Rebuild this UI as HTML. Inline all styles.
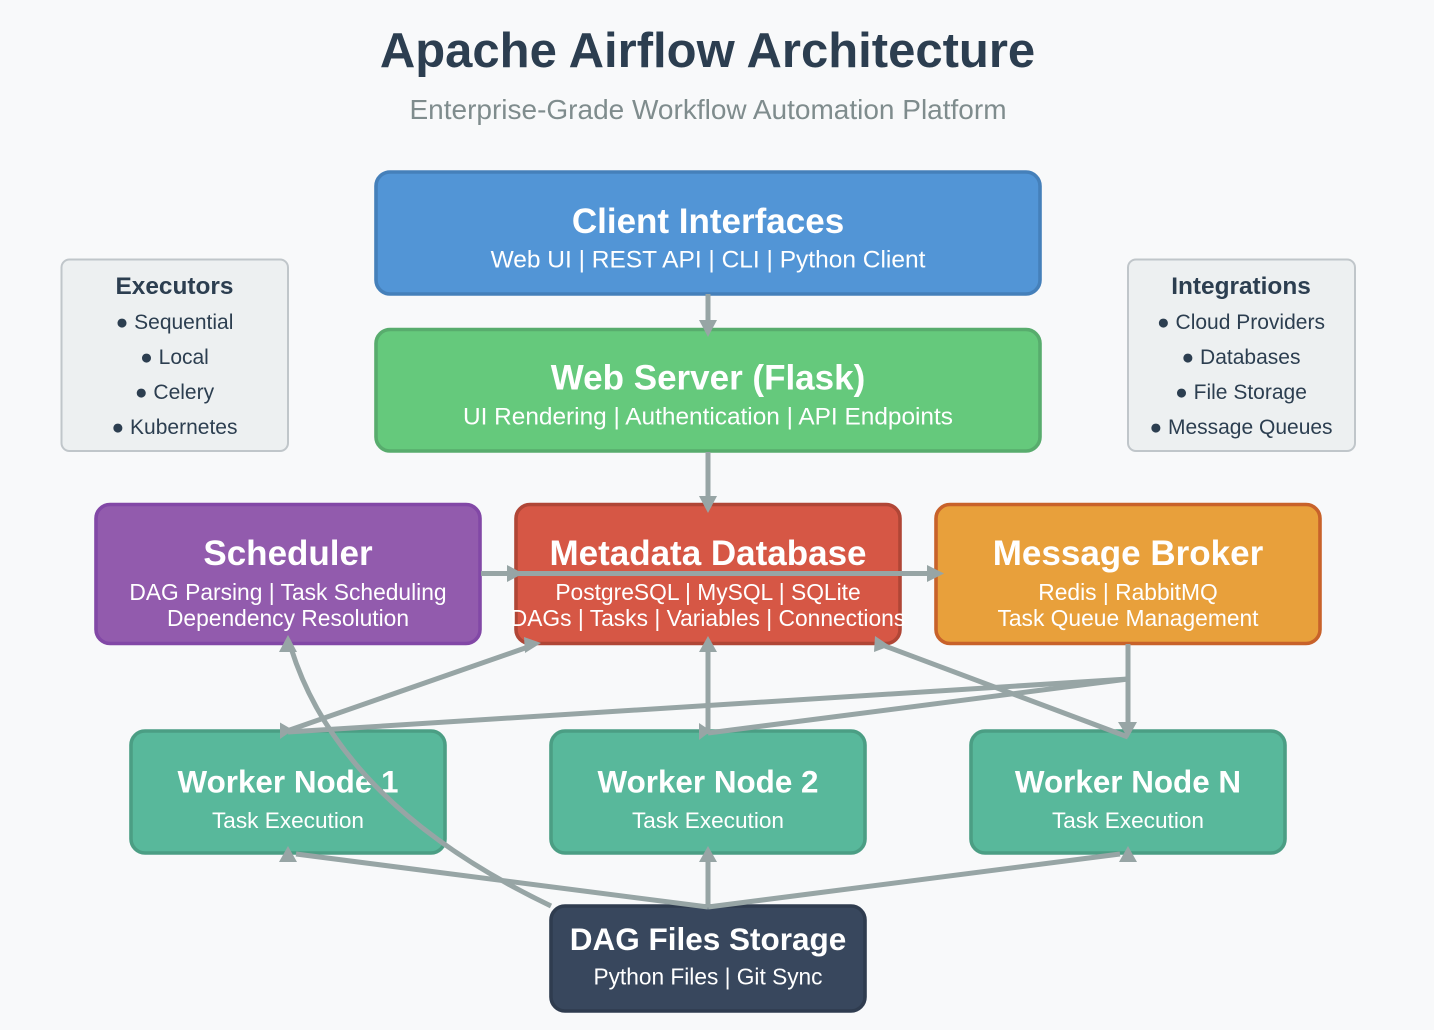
<!DOCTYPE html>
<html><head><meta charset="utf-8"><style>
html,body{margin:0;padding:0;background:#f8f9fa;width:1434px;height:1030px;overflow:hidden}
svg{display:block}
text{font-family:"Liberation Sans",Arial,sans-serif;text-anchor:middle}
.w{fill:#fff}
.b{font-weight:bold}
.d{fill:#2c3e50}
.l{stroke:#97a5a5;stroke-width:5;fill:none}
.h{fill:#97a5a5}
</style></head><body>
<svg width="1434" height="1030" viewBox="0 0 1434 1030" xmlns="http://www.w3.org/2000/svg">
<rect width="1434" height="1030" fill="#f8f9fa"/>
<text x="707.5" y="67" class="b d" font-size="49">Apache Airflow Architecture</text>
<text x="708" y="119" font-size="28" fill="#7f8c8d">Enterprise-Grade Workflow Automation Platform</text>

<g stroke-width="3.6">
<rect x="376" y="172" width="664" height="122" rx="14" fill="#5295d6" stroke="#4580ba"/>
<rect x="376" y="329.5" width="664" height="121.5" rx="14" fill="#65c97c" stroke="#58ac6d"/>
<rect x="96" y="504.5" width="384" height="139" rx="14" fill="#925bad" stroke="#8248a6"/>
<rect x="516" y="504.5" width="384" height="139" rx="14" fill="#d65745" stroke="#b04636"/>
<rect x="936" y="504.5" width="384" height="139" rx="14" fill="#e8a03b" stroke="#c8622a"/>
<rect x="131" y="731" width="314" height="122" rx="14" fill="#58b89b" stroke="#4b9e84"/>
<rect x="551" y="731" width="314" height="122" rx="14" fill="#58b89b" stroke="#4b9e84"/>
<rect x="971" y="731" width="314" height="122" rx="14" fill="#58b89b" stroke="#4b9e84"/>
<rect x="551" y="906" width="314" height="105" rx="14" fill="#38475d" stroke="#2f3c4f"/>
</g>
<rect x="61.5" y="259.5" width="226.5" height="191.5" rx="8" fill="#edf0f1" stroke="#c0c6ca" stroke-width="2"/>
<rect x="1128" y="259.5" width="227" height="191.5" rx="8" fill="#edf0f1" stroke="#c0c6ca" stroke-width="2"/>

<text x="708" y="233" class="w b" font-size="35">Client Interfaces</text>
<text x="708" y="267.5" class="w" font-size="24.5">Web UI | REST API | CLI | Python Client</text>
<text x="708" y="389.5" class="w b" font-size="35">Web Server (Flask)</text>
<text x="708" y="424.5" class="w" font-size="24.4">UI Rendering | Authentication | API Endpoints</text>

<text x="288" y="565" class="w b" font-size="35">Scheduler</text>
<text x="288" y="600" class="w" font-size="22.8">DAG Parsing | Task Scheduling</text>
<text x="288" y="626" class="w" font-size="22.8">Dependency Resolution</text>
<text x="708" y="565" class="w b" font-size="35">Metadata Database</text>
<text x="708" y="600" class="w" font-size="22.8">PostgreSQL | MySQL | SQLite</text>
<text x="708" y="626" class="w" font-size="22.8">DAGs | Tasks | Variables | Connections</text>
<text x="1128" y="565" class="w b" font-size="35">Message Broker</text>
<text x="1128" y="600" class="w" font-size="22.8">Redis | RabbitMQ</text>
<text x="1128" y="626" class="w" font-size="22.8">Task Queue Management</text>

<text x="288" y="792.5" class="w b" font-size="31.4">Worker Node 1</text>
<text x="288" y="828" class="w" font-size="22.6">Task Execution</text>
<text x="708" y="792.5" class="w b" font-size="31.4">Worker Node 2</text>
<text x="708" y="828" class="w" font-size="22.6">Task Execution</text>
<text x="1128" y="792.5" class="w b" font-size="31.4">Worker Node N</text>
<text x="1128" y="828" class="w" font-size="22.6">Task Execution</text>
<text x="708" y="950" class="w b" font-size="31.5">DAG Files Storage</text>
<text x="708" y="984.5" class="w" font-size="22.7">Python Files | Git Sync</text>

<text x="174.5" y="294" class="d b" font-size="24.4">Executors</text>
<text x="174.5" y="329" class="d" font-size="21">● Sequential</text>
<text x="174.5" y="364" class="d" font-size="21">● Local</text>
<text x="174.5" y="399" class="d" font-size="21">● Celery</text>
<text x="174.5" y="434" class="d" font-size="21">● Kubernetes</text>
<text x="1241" y="294" class="d b" font-size="24.4">Integrations</text>
<text x="1241" y="329" class="d" font-size="21">● Cloud Providers</text>
<text x="1241" y="364" class="d" font-size="21">● Databases</text>
<text x="1241" y="399" class="d" font-size="21">● File Storage</text>
<text x="1241" y="434" class="d" font-size="21">● Message Queues</text>

<g>
<path class="l" d="M708 294V322"/>
<path class="l" d="M708 452V499"/>
<path class="l" d="M481 573.5H930"/>
<path class="l" d="M284 732L528 647"/>
<path class="l" d="M708 650V734"/>
<path class="l" d="M885 646L1128 737"/>
<path class="l" d="M1128 644V724"/>
<path class="l" d="M1128 679L288 732"/>
<path class="l" d="M1128 679L708 733"/>
<path class="l" d="M708 907L296 854"/>
<path class="l" d="M708 907V860"/>
<path class="l" d="M708 907L1120 854"/>
<path class="l" d="M551 906Q340 805 291 648"/>
</g>
<g class="h">
<polygon points="708,337 699,320 717,320"/>
<polygon points="708,513 699,496 717,496"/>
<polygon points="523,573.5 507,565 507,582"/>
<polygon points="944,573.5 927,565 927,582"/>
<polygon points="541,643 524,637 525,653"/>
<polygon points="280,722.5 280,739 293,730"/>
<polygon points="708,636 699,652 717,652"/>
<polygon points="699,723 699,740 711,731"/>
<polygon points="875,636 874,652 890,646"/>
<polygon points="1128,738 1118,722 1137,722"/>
<polygon points="288,846 279,862 297,862"/>
<polygon points="708,846 699,862 717,862"/>
<polygon points="1128,846 1119,862 1137,862"/>
<polygon points="288,635 279,652 297,652"/>
</g>
</svg>
</body></html>
